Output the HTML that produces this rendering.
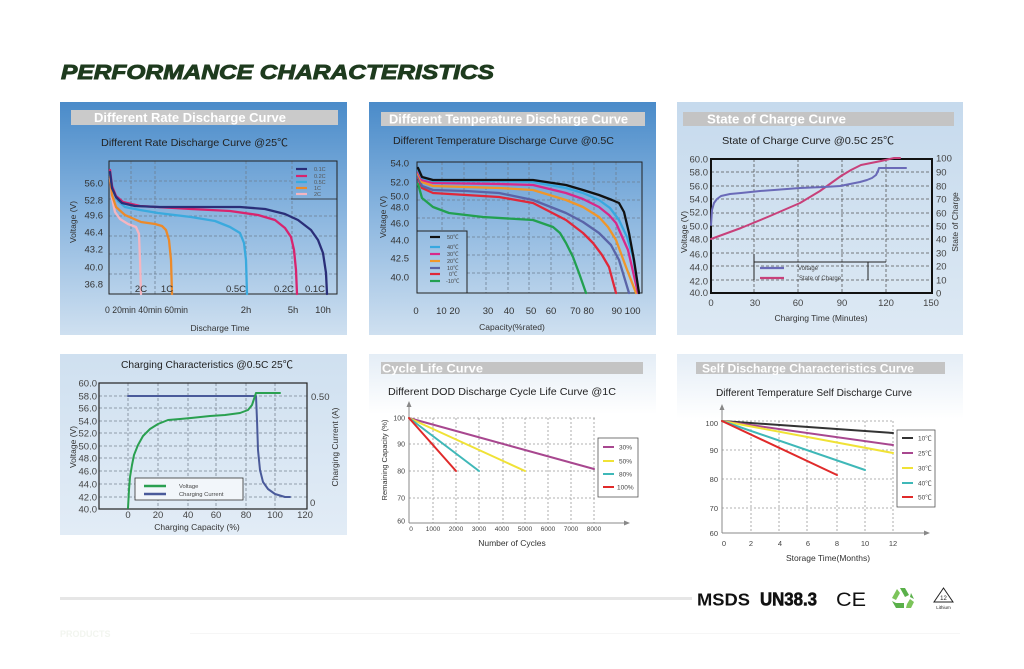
<!DOCTYPE html>
<html>
<head>
<meta charset="utf-8">
<style>
html,body{margin:0;padding:0;background:#fff;}
body{width:1024px;height:669px;overflow:hidden;}
svg{display:block;}
text{font-family:"Liberation Sans","Noto Sans CJK SC",sans-serif;}
</style>
</head>
<body>
<svg width="1024" height="669" viewBox="0 0 1024 669" xmlns="http://www.w3.org/2000/svg">
<defs>
  <linearGradient id="gBlue" x1="0" y1="0" x2="0" y2="1">
    <stop offset="0" stop-color="#4a8bc9"/>
    <stop offset="0.45" stop-color="#86b3de"/>
    <stop offset="1" stop-color="#cfe0f0"/>
  </linearGradient>
  <linearGradient id="gLight" x1="0" y1="0" x2="0" y2="1">
    <stop offset="0" stop-color="#c6daed"/>
    <stop offset="1" stop-color="#dde9f4"/>
  </linearGradient>
  <linearGradient id="gLight2" x1="0" y1="0" x2="0" y2="1">
    <stop offset="0" stop-color="#cfe0f0"/>
    <stop offset="1" stop-color="#e2ecf6"/>
  </linearGradient>
  <linearGradient id="gWhite" x1="0" y1="0" x2="0" y2="1">
    <stop offset="0" stop-color="#e4edf6"/>
    <stop offset="0.3" stop-color="#ffffff"/>
    <stop offset="1" stop-color="#ffffff"/>
  </linearGradient>
</defs>

<!-- Title -->
<text x="61" y="79" font-size="20" font-weight="bold" font-style="italic" fill="#1e3b1e" stroke="#1e3b1e" stroke-width="0.9" textLength="433" lengthAdjust="spacingAndGlyphs">PERFORMANCE CHARACTERISTICS</text>

<!-- ================= PANEL 1 ================= -->
<rect x="60" y="102" width="287" height="233" fill="url(#gBlue)"/>
<rect x="71" y="110" width="267" height="15" fill="#cacaca"/>
<text x="94" y="122" font-size="12.5" font-weight="bold" fill="#fff" textLength="192" lengthAdjust="spacingAndGlyphs">Different Rate Discharge Curve</text>
<text x="101" y="146" font-size="10.5" fill="#222" textLength="187" lengthAdjust="spacingAndGlyphs">Different Rate Discharge Curve @25℃</text>
<g stroke="#6d7f92" stroke-width="0.8" stroke-dasharray="3,2" fill="none">
  <line x1="109" y1="181" x2="291" y2="181"/>
  <line x1="109" y1="216" x2="337" y2="216"/>
  <line x1="109" y1="236" x2="337" y2="236"/>
  <line x1="109" y1="254" x2="337" y2="254"/>
  <line x1="109" y1="274" x2="337" y2="274"/>
  <line x1="109" y1="199" x2="291" y2="199"/>
  <line x1="131" y1="161" x2="131" y2="294"/>
  <line x1="155" y1="161" x2="155" y2="294"/>
  <line x1="246" y1="161" x2="246" y2="294"/>
  <line x1="292" y1="161" x2="292" y2="294"/>
</g>
<line x1="291" y1="199" x2="337" y2="199" stroke="#222" stroke-width="0.8"/>
<rect x="109" y="161" width="228" height="133" fill="none" stroke="#222" stroke-width="1"/>
<g fill="none" stroke-width="2.3" stroke-linejoin="round" stroke-linecap="round">
  <polyline stroke="#f5b5c0" points="110,178 112,198 115,212 120,219 128,224 136,227 139,234 140,260 141,294"/>
  <polyline stroke="#ec8a2a" points="110,176 112,195 116,207 125,215 141,222 155,224 162,226 166,230 169,240 171,260 172,294"/>
  <polyline stroke="#3aaade" points="110,174 113,190 118,201 125,207 140,210 158,213 191,217 215,221 230,227 240,233 244,243 246,260 247,294"/>
  <polyline stroke="#d8246e" points="110,170 112,186 116,196 123,202 140,206 191,209 230,211 258,215 275,220 285,228 291,237 294,250 296,270 297,294"/>
  <polyline stroke="#2a2e78" points="110,172 112,188 116,197 122,203 135,206 160,207 200,207 240,207 265,209 285,214 298,220 311,230 318,240 323,253 326,273 327,294"/>
</g>
<g stroke-width="2.2">
  <line x1="296" y1="169" x2="307" y2="169" stroke="#2a2e78"/>
  <line x1="296" y1="176" x2="307" y2="176" stroke="#d8246e"/>
  <line x1="296" y1="182" x2="307" y2="182" stroke="#3aaade"/>
  <line x1="296" y1="188" x2="307" y2="188" stroke="#ec8a2a"/>
  <line x1="296" y1="194" x2="307" y2="194" stroke="#f5b5c0"/>
</g>
<g font-size="5.5" fill="#555">
  <text x="314" y="171">0.1C</text>
  <text x="314" y="178">0.2C</text>
  <text x="314" y="184">0.5C</text>
  <text x="314" y="190">1C</text>
  <text x="314" y="196">2C</text>
</g>
<g font-size="9.5" fill="#333" text-anchor="end">
  <text x="103" y="186.5">56.0</text>
  <text x="103" y="203.5">52.8</text>
  <text x="103" y="218.5">49.6</text>
  <text x="103" y="235.5">46.4</text>
  <text x="103" y="252.5">43.2</text>
  <text x="103" y="270.5">40.0</text>
  <text x="103" y="287.5">36.8</text>
</g>
<g font-size="9.5" fill="#333" text-anchor="middle">
  <text x="141" y="292">2C</text>
  <text x="167" y="292">1C</text>
  <text x="236" y="292">0.5C</text>
  <text x="284" y="292">0.2C</text>
  <text x="315" y="292">0.1C</text>
  <text x="246" y="313">2h</text>
  <text x="293" y="313">5h</text>
  <text x="323" y="313">10h</text>
</g>
<text x="105" y="313" font-size="9.5" fill="#333" textLength="83" lengthAdjust="spacingAndGlyphs">0 20min 40min 60min</text>
<text x="220" y="331" font-size="8.5" fill="#333" text-anchor="middle">Discharge Time</text>
<text transform="translate(76,222) rotate(-90)" font-size="8.5" fill="#333" text-anchor="middle">Voltage (V)</text>

<!-- ================= PANEL 2 ================= -->
<rect x="369" y="102" width="287" height="233" fill="url(#gBlue)"/>
<rect x="381" y="112" width="264" height="14" fill="#cacaca"/>
<text x="389" y="123.5" font-size="12.5" font-weight="bold" fill="#fff" textLength="239" lengthAdjust="spacingAndGlyphs">Different Temperature Discharge Curve</text>
<text x="393" y="144" font-size="10.5" fill="#222" textLength="221" lengthAdjust="spacingAndGlyphs">Different Temperature Discharge Curve @0.5C</text>
<g stroke="#6d7f92" stroke-width="0.8" stroke-dasharray="3,2" fill="none">
  <line x1="417" y1="182" x2="642" y2="182"/>
  <line x1="417" y1="200" x2="642" y2="200"/>
  <line x1="417" y1="218" x2="642" y2="218"/>
  <line x1="467" y1="237" x2="642" y2="237"/>
  <line x1="467" y1="255" x2="642" y2="255"/>
  <line x1="467" y1="273" x2="642" y2="273"/>
  <line x1="442" y1="162" x2="442" y2="231"/>
  <line x1="464" y1="162" x2="464" y2="231"/>
  <line x1="486" y1="162" x2="486" y2="293"/>
  <line x1="508" y1="162" x2="508" y2="293"/>
  <line x1="529" y1="162" x2="529" y2="293"/>
  <line x1="551" y1="162" x2="551" y2="293"/>
  <line x1="573" y1="162" x2="573" y2="293"/>
  <line x1="594" y1="162" x2="594" y2="293"/>
  <line x1="616" y1="162" x2="616" y2="293"/>
</g>
<rect x="417" y="162" width="225" height="131" fill="none" stroke="#222" stroke-width="1"/>
<rect x="417" y="231" width="50" height="62" fill="none" stroke="#222" stroke-width="1"/>
<g fill="none" stroke-width="2.3" stroke-linejoin="round" stroke-linecap="round">
  <polyline stroke="#22a050" points="418,184 422,198 433,207 449,213 483,217 533,220 553,227 560,233 566,243 573,257 579,273 586,293"/>
  <polyline stroke="#e0283a" points="418,178 422,188 433,193 466,195 499,197 533,203 566,220 583,233 593,243 602,255 609,267 616,293"/>
  <polyline stroke="#5a64a8" points="418,176 422,186 433,190 466,191 499,193 533,200 566,213 583,222 599,233 611,245 619,260 629,293"/>
  <polyline stroke="#f0962a" points="418,174 422,182 433,186 499,188 533,190 566,200 583,207 599,217 608,227 616,240 626,267 636,293"/>
  <polyline stroke="#d8288a" points="418,172 422,180 433,183 499,184 533,185 566,193 583,199 599,207 609,215 616,223 628,250 638,293"/>
  <polyline stroke="#38a8e0" points="418,170 422,178 433,181 499,181 533,182 566,188 583,193 599,200 610,208 619,220 627,237 633,257 639,293"/>
  <polyline stroke="#111" points="418,168 422,177 433,180 466,180 533,180 566,185 583,190 599,195 612,200 619,203 624,212 629,233 634,260 639,293"/>
</g>
<g stroke-width="2.2">
  <line x1="430" y1="237" x2="440" y2="237" stroke="#111"/>
  <line x1="430" y1="247" x2="440" y2="247" stroke="#38a8e0"/>
  <line x1="430" y1="254" x2="440" y2="254" stroke="#d8288a"/>
  <line x1="430" y1="261" x2="440" y2="261" stroke="#f0962a"/>
  <line x1="430" y1="268" x2="440" y2="268" stroke="#5a64a8"/>
  <line x1="430" y1="274" x2="440" y2="274" stroke="#e0283a"/>
  <line x1="430" y1="281" x2="440" y2="281" stroke="#22a050"/>
</g>
<g font-size="5.5" fill="#444">
  <text x="447" y="239">50℃</text>
  <text x="447" y="249">40℃</text>
  <text x="447" y="256">30℃</text>
  <text x="447" y="263">20℃</text>
  <text x="447" y="270">10℃</text>
  <text x="449" y="276">0℃</text>
  <text x="446" y="283">-10℃</text>
</g>
<g font-size="9.5" fill="#333" text-anchor="end">
  <text x="409" y="166.5">54.0</text>
  <text x="409" y="185.5">52.0</text>
  <text x="409" y="199.5">50.0</text>
  <text x="409" y="210.5">48.0</text>
  <text x="409" y="226.5">46.0</text>
  <text x="409" y="243.5">44.0</text>
  <text x="409" y="261.5">42.5</text>
  <text x="409" y="280.5">40.0</text>
</g>
<g font-size="9.5" fill="#333" text-anchor="middle">
  <text x="416" y="314">0</text>
  <text x="448" y="314">10 20</text>
  <text x="488" y="314">30</text>
  <text x="509" y="314">40</text>
  <text x="531" y="314">50</text>
  <text x="551" y="314">60</text>
  <text x="582" y="314">70 80</text>
  <text x="626" y="314">90 100</text>
</g>
<text x="512" y="330" font-size="8.5" fill="#333" text-anchor="middle">Capacity(%rated)</text>
<text transform="translate(386,217) rotate(-90)" font-size="8.5" fill="#333" text-anchor="middle">Voltage (V)</text>

<!-- ================= PANEL 3 ================= -->
<rect x="677" y="102" width="286" height="233" fill="url(#gLight)"/>
<rect x="683" y="112" width="271" height="14" fill="#c4c4c4"/>
<text x="707" y="123.5" font-size="12.5" font-weight="bold" fill="#fff" textLength="139" lengthAdjust="spacingAndGlyphs">State of Charge Curve</text>
<text x="722" y="144" font-size="10.5" fill="#222" textLength="172" lengthAdjust="spacingAndGlyphs">State of Charge Curve @0.5C 25℃</text>
<g stroke="#555" stroke-width="0.8" stroke-dasharray="3,2" fill="none">
  <line x1="711" y1="172" x2="932" y2="172"/>
  <line x1="711" y1="186" x2="932" y2="186"/>
  <line x1="711" y1="199" x2="932" y2="199"/>
  <line x1="711" y1="213" x2="932" y2="213"/>
  <line x1="711" y1="226" x2="932" y2="226"/>
  <line x1="711" y1="239" x2="932" y2="239"/>
  <line x1="711" y1="253" x2="932" y2="253"/>
  <line x1="711" y1="266" x2="932" y2="266"/>
  <line x1="711" y1="280" x2="932" y2="280"/>
  <line x1="754" y1="159" x2="754" y2="293"/>
  <line x1="798" y1="159" x2="798" y2="293"/>
  <line x1="842" y1="159" x2="842" y2="293"/>
  <line x1="886" y1="159" x2="886" y2="293"/>
</g>
<rect x="711" y="159" width="221" height="134" fill="none" stroke="#111" stroke-width="2"/>
<g fill="none" stroke-width="2" stroke-linejoin="round" stroke-linecap="round">
  <polyline stroke="#c8407a" points="711,239 741,228 770,216 800,203 820,191 841,176 851,170 861,165 871,163 881,161 894,158 900,158"/>
  <polyline stroke="#6a6ab8" points="711,225 712,210 714,203 717,199 721,196 730,194 741,193 760,191 774,190 800,188 824,187 840,186 850,184 860,182 867,180 872,178 876,175 878,171 879,168 906,168"/>
</g>
<g stroke="#222" stroke-width="1" fill="none">
  <line x1="754" y1="262" x2="886" y2="262"/>
  <line x1="754" y1="254" x2="754" y2="280"/>
  <line x1="868" y1="262" x2="868" y2="280"/>
</g>
<line x1="760" y1="268" x2="784" y2="268" stroke="#6a6ab8" stroke-width="2.2"/>
<line x1="760" y1="278" x2="784" y2="278" stroke="#c8407a" stroke-width="2.2"/>
<text x="798" y="270" font-size="6" fill="#444">Voltage</text>
<text x="799" y="280" font-size="6" fill="#444">State of Charge</text>
<g font-size="9.5" fill="#444" text-anchor="end">
  <text x="708" y="162.5">60.0</text>
  <text x="708" y="175.5">58.0</text>
  <text x="708" y="189.5">56.0</text>
  <text x="708" y="202.5">54.0</text>
  <text x="708" y="215.5">52.0</text>
  <text x="708" y="229.5">50.0</text>
  <text x="708" y="242.5">48.0</text>
  <text x="708" y="257.5">46.0</text>
  <text x="708" y="270.5">44.0</text>
  <text x="708" y="284.5">42.0</text>
  <text x="708" y="296">40.0</text>
</g>
<g font-size="9.5" fill="#444">
  <text x="936" y="161.5">100</text>
  <text x="936" y="175.5">90</text>
  <text x="936" y="189.5">80</text>
  <text x="936" y="202.5">70</text>
  <text x="936" y="216.5">60</text>
  <text x="936" y="229.5">50</text>
  <text x="936" y="242.5">40</text>
  <text x="936" y="256.5">30</text>
  <text x="936" y="269.5">20</text>
  <text x="936" y="283.5">10</text>
  <text x="936" y="296.5">0</text>
</g>
<g font-size="9.5" fill="#444" text-anchor="middle">
  <text x="711" y="306">0</text>
  <text x="755" y="306">30</text>
  <text x="798" y="306">60</text>
  <text x="842" y="306">90</text>
  <text x="886" y="306">120</text>
  <text x="931" y="306">150</text>
</g>
<text x="821" y="321" font-size="8.5" fill="#333" text-anchor="middle">Charging Time (Minutes)</text>
<text transform="translate(687,232) rotate(-90)" font-size="8.5" fill="#333" text-anchor="middle">Voltage (V)</text>
<text transform="translate(958,222) rotate(-90)" font-size="8.5" fill="#333" text-anchor="middle">State of Charge</text>

<!-- ================= PANEL 4 ================= -->
<rect x="60" y="354" width="287" height="181" fill="url(#gLight2)"/>
<text x="121" y="368" font-size="10.5" fill="#222" textLength="172" lengthAdjust="spacingAndGlyphs">Charging Characteristics @0.5C 25℃</text>
<g stroke="#7a8593" stroke-width="0.8" stroke-dasharray="3,2" fill="none">
  <line x1="99" y1="396" x2="307" y2="396"/>
  <line x1="99" y1="408" x2="307" y2="408"/>
  <line x1="99" y1="421" x2="307" y2="421"/>
  <line x1="99" y1="433" x2="307" y2="433"/>
  <line x1="99" y1="446" x2="307" y2="446"/>
  <line x1="99" y1="458" x2="307" y2="458"/>
  <line x1="99" y1="471" x2="307" y2="471"/>
  <line x1="99" y1="484" x2="307" y2="484"/>
  <line x1="99" y1="497" x2="307" y2="497"/>
  <line x1="128" y1="383" x2="128" y2="509"/>
  <line x1="158" y1="383" x2="158" y2="509"/>
  <line x1="188" y1="383" x2="188" y2="509"/>
  <line x1="216" y1="383" x2="216" y2="509"/>
  <line x1="246" y1="383" x2="246" y2="509"/>
  <line x1="275" y1="383" x2="275" y2="509"/>
</g>
<rect x="99" y="383" width="208" height="126" fill="none" stroke="#222" stroke-width="1.2"/>
<rect x="135" y="478" width="108" height="22" fill="#f2f6fa" stroke="#333" stroke-width="0.8"/>
<g fill="none" stroke-width="2" stroke-linejoin="round" stroke-linecap="round">
  <polyline stroke="#4a5a9a" points="128,396 256,396 257,420 258,450 260,470 263,482 268,489 275,494 285,497 290,497"/>
  <polyline stroke="#2aa050" points="128,508 129,490 130,477 132,465 134,455 138,445 143,436 150,429 158,424 168,420 180,419 191,418 210,416 225,415 240,413 248,410 252,405 254,399 256,393 280,393"/>
</g>
<line x1="144" y1="486" x2="166" y2="486" stroke="#2aa050" stroke-width="2.4"/>
<line x1="144" y1="494" x2="166" y2="494" stroke="#4a5a9a" stroke-width="2.4"/>
<text x="179" y="488" font-size="5.8" fill="#444">Voltage</text>
<text x="179" y="496" font-size="5.8" fill="#444">Charging Current</text>
<g font-size="9.5" fill="#444" text-anchor="end">
  <text x="97" y="386.5">60.0</text>
  <text x="97" y="399.5">58.0</text>
  <text x="97" y="411.5">56.0</text>
  <text x="97" y="424.5">54.0</text>
  <text x="97" y="436.5">52.0</text>
  <text x="97" y="449.5">50.0</text>
  <text x="97" y="461.5">48.0</text>
  <text x="97" y="474.5">46.0</text>
  <text x="97" y="487.5">44.0</text>
  <text x="97" y="500.5">42.0</text>
  <text x="97" y="512.5">40.0</text>
</g>
<text x="311" y="400" font-size="9.5" fill="#444">0.50</text>
<text x="310" y="506" font-size="9.5" fill="#444">0</text>
<g font-size="9.5" fill="#444" text-anchor="middle">
  <text x="128" y="518">0</text>
  <text x="158" y="518">20</text>
  <text x="188" y="518">40</text>
  <text x="216" y="518">60</text>
  <text x="246" y="518">80</text>
  <text x="275" y="518">100</text>
  <text x="305" y="518">120</text>
</g>
<text x="197" y="530" font-size="8.5" fill="#333" text-anchor="middle">Charging Capacity (%)</text>
<text transform="translate(76,447) rotate(-90)" font-size="8.5" fill="#333" text-anchor="middle">Voltage (V)</text>
<text transform="translate(338,447) rotate(-90)" font-size="8.5" fill="#333" text-anchor="middle">Charging Current (A)</text>

<!-- ================= PANEL 5 ================= -->
<rect x="369" y="354" width="287" height="201" fill="url(#gWhite)"/>
<rect x="381" y="362" width="262" height="12" fill="#c4c4c4"/>
<text x="382" y="372.5" font-size="12" font-weight="bold" fill="#fff" textLength="101" lengthAdjust="spacingAndGlyphs">Cycle Life Curve</text>
<text x="388" y="395" font-size="10" fill="#222" textLength="228" lengthAdjust="spacingAndGlyphs">Different DOD Discharge Cycle Life Curve @1C</text>
<g stroke="#999" stroke-width="0.8" stroke-dasharray="2,2" fill="none">
  <line x1="409" y1="418" x2="595" y2="418"/>
  <line x1="409" y1="444" x2="595" y2="444"/>
  <line x1="409" y1="471" x2="595" y2="471"/>
  <line x1="409" y1="498" x2="595" y2="498"/>
  <line x1="433" y1="418" x2="433" y2="523"/>
  <line x1="456" y1="418" x2="456" y2="523"/>
  <line x1="479" y1="418" x2="479" y2="523"/>
  <line x1="503" y1="418" x2="503" y2="523"/>
  <line x1="525" y1="418" x2="525" y2="523"/>
  <line x1="548" y1="418" x2="548" y2="523"/>
  <line x1="571" y1="418" x2="571" y2="523"/>
  <line x1="594" y1="418" x2="594" y2="523"/>
</g>
<g stroke="#888" stroke-width="1">
  <line x1="409" y1="405" x2="409" y2="523"/>
  <line x1="409" y1="523" x2="626" y2="523"/>
</g>
<polygon points="409,401 406.5,407 411.5,407" fill="#888"/>
<polygon points="630,523 624,520.5 624,525.5" fill="#888"/>
<g stroke-width="2" stroke-linecap="round">
  <line x1="409" y1="418" x2="594" y2="469" stroke="#a8478f"/>
  <line x1="409" y1="418" x2="525" y2="471" stroke="#f0e236"/>
  <line x1="409" y1="418" x2="479" y2="471" stroke="#3fb8b8"/>
  <line x1="409" y1="418" x2="456" y2="471" stroke="#e02a2a"/>
</g>
<rect x="598" y="438" width="40" height="59" fill="#fff" stroke="#555" stroke-width="0.8"/>
<g stroke-width="2">
  <line x1="603" y1="447" x2="614" y2="447" stroke="#a8478f"/>
  <line x1="603" y1="461" x2="614" y2="461" stroke="#f0e236"/>
  <line x1="603" y1="474" x2="614" y2="474" stroke="#3fb8b8"/>
  <line x1="603" y1="487" x2="614" y2="487" stroke="#e02a2a"/>
</g>
<g font-size="6.5" fill="#444">
  <text x="619" y="449.5">30%</text>
  <text x="619" y="463.5">50%</text>
  <text x="619" y="476.5">80%</text>
  <text x="617" y="489.5">100%</text>
</g>
<g font-size="7" fill="#444" text-anchor="end">
  <text x="405" y="420.5">100</text>
  <text x="405" y="446.5">90</text>
  <text x="405" y="473.5">80</text>
  <text x="405" y="500.5">70</text>
  <text x="405" y="523.5">60</text>
</g>
<g font-size="6.5" fill="#444" text-anchor="middle">
  <text x="411" y="531">0</text>
  <text x="433" y="531">1000</text>
  <text x="456" y="531">2000</text>
  <text x="479" y="531">3000</text>
  <text x="502" y="531">4000</text>
  <text x="525" y="531">5000</text>
  <text x="548" y="531">6000</text>
  <text x="571" y="531">7000</text>
  <text x="594" y="531">8000</text>
</g>
<text x="512" y="546" font-size="8.5" fill="#333" text-anchor="middle">Number of Cycles</text>
<text transform="translate(387,460) rotate(-90)" font-size="7.5" fill="#333" text-anchor="middle">Remaining Capacity (%)</text>

<!-- ================= PANEL 6 ================= -->
<rect x="677" y="354" width="286" height="216" fill="url(#gWhite)"/>
<rect x="696" y="362" width="249" height="12" fill="#c4c4c4"/>
<text x="702" y="372.5" font-size="12" font-weight="bold" fill="#fff" textLength="212" lengthAdjust="spacingAndGlyphs">Self Discharge Characteristics Curve</text>
<text x="716" y="396" font-size="9.8" fill="#222" textLength="196" lengthAdjust="spacingAndGlyphs">Different Temperature Self Discharge Curve</text>
<g stroke="#999" stroke-width="0.8" stroke-dasharray="2,2" fill="none">
  <line x1="722" y1="421" x2="893" y2="421"/>
  <line x1="722" y1="450" x2="893" y2="450"/>
  <line x1="722" y1="479" x2="893" y2="479"/>
  <line x1="722" y1="508" x2="893" y2="508"/>
  <line x1="751" y1="421" x2="751" y2="533"/>
  <line x1="779" y1="421" x2="779" y2="533"/>
  <line x1="807" y1="421" x2="807" y2="533"/>
  <line x1="837" y1="421" x2="837" y2="533"/>
  <line x1="865" y1="421" x2="865" y2="533"/>
  <line x1="893" y1="421" x2="893" y2="533"/>
</g>
<g stroke="#888" stroke-width="1">
  <line x1="722" y1="408" x2="722" y2="533"/>
  <line x1="722" y1="533" x2="926" y2="533"/>
</g>
<polygon points="722,404 719.5,410 724.5,410" fill="#888"/>
<polygon points="930,533 924,530.5 924,535.5" fill="#888"/>
<g stroke-width="2" stroke-linecap="round">
  <line x1="722" y1="421" x2="893" y2="433" stroke="#333"/>
  <line x1="722" y1="421" x2="893" y2="445" stroke="#a8478f"/>
  <line x1="722" y1="421" x2="893" y2="453" stroke="#f0e236"/>
  <line x1="722" y1="421" x2="865" y2="470" stroke="#3fb8b8"/>
  <line x1="722" y1="421" x2="837" y2="475" stroke="#e02a2a"/>
</g>
<rect x="897" y="430" width="38" height="77" fill="#fff" stroke="#555" stroke-width="0.8"/>
<g stroke-width="2">
  <line x1="902" y1="438" x2="913" y2="438" stroke="#333"/>
  <line x1="902" y1="453" x2="913" y2="453" stroke="#a8478f"/>
  <line x1="902" y1="468" x2="913" y2="468" stroke="#f0e236"/>
  <line x1="902" y1="483" x2="913" y2="483" stroke="#3fb8b8"/>
  <line x1="902" y1="497" x2="913" y2="497" stroke="#e02a2a"/>
</g>
<g font-size="6.5" fill="#444">
  <text x="918" y="440.5">10℃</text>
  <text x="918" y="455.5">25℃</text>
  <text x="918" y="470.5">30℃</text>
  <text x="918" y="485.5">40℃</text>
  <text x="918" y="499.5">50℃</text>
</g>
<g font-size="7.5" fill="#444" text-anchor="end">
  <text x="718" y="426">100</text>
  <text x="718" y="453">90</text>
  <text x="718" y="482">80</text>
  <text x="718" y="511">70</text>
  <text x="718" y="536">60</text>
</g>
<g font-size="7.5" fill="#444" text-anchor="middle">
  <text x="724" y="546">0</text>
  <text x="751" y="546">2</text>
  <text x="780" y="546">4</text>
  <text x="808" y="546">6</text>
  <text x="837" y="546">8</text>
  <text x="865" y="546">10</text>
  <text x="893" y="546">12</text>
</g>
<text x="828" y="561" font-size="8.5" fill="#333" text-anchor="middle">Storage Time(Months)</text>

<!-- ================= BOTTOM ================= -->
<rect x="60" y="597" width="632" height="3" fill="#e6e6e6"/>
<text x="697" y="605.5" font-size="17.5" font-weight="bold" fill="#111" textLength="53" lengthAdjust="spacingAndGlyphs">MSDS</text>
<text x="760" y="605.5" font-size="18" font-weight="bold" fill="#111" textLength="57" lengthAdjust="spacingAndGlyphs" stroke="#111" stroke-width="0.6">UN38.3</text>
<text x="836" y="606" font-size="19" fill="#111" textLength="30" lengthAdjust="spacingAndGlyphs">CE</text>
<!-- recycle icon -->
<g transform="translate(902,598)">
  <path d="M-2,-10 L3,-10 L7,-3 L3,-1 Z" fill="#5ab04a"/>
  <path d="M-5,-9 L-10,0 L-6,2 L-2,-5 Z" fill="#7cc45a"/>
  <path d="M-10,3 L-6,10 L2,10 L2,5 L-6,5 Z" fill="#5ab04a"/>
  <path d="M4,10 L9,10 L12,4 L8,1 L5,6 Z" fill="#7cc45a"/>
  <path d="M8,-1 L12,1 L9,-5 Z" fill="#5ab04a"/>
</g>
<!-- lithium triangle -->
<g fill="none" stroke="#222" stroke-width="1">
  <path d="M943.5,588 L953,602 L934,602 Z"/>
</g>
<text x="943.5" y="600" font-size="6" fill="#222" text-anchor="middle">12</text>
<text x="943.5" y="609" font-size="4.5" fill="#222" text-anchor="middle">Lithium</text>

<!-- faint bottom strip -->
<text x="60" y="637" font-size="9" font-weight="bold" fill="#f2f5ef">PRODUCTS</text>
<rect x="190" y="633" width="770" height="1" fill="#f6f6f6"/>
</svg>
</body>
</html>
